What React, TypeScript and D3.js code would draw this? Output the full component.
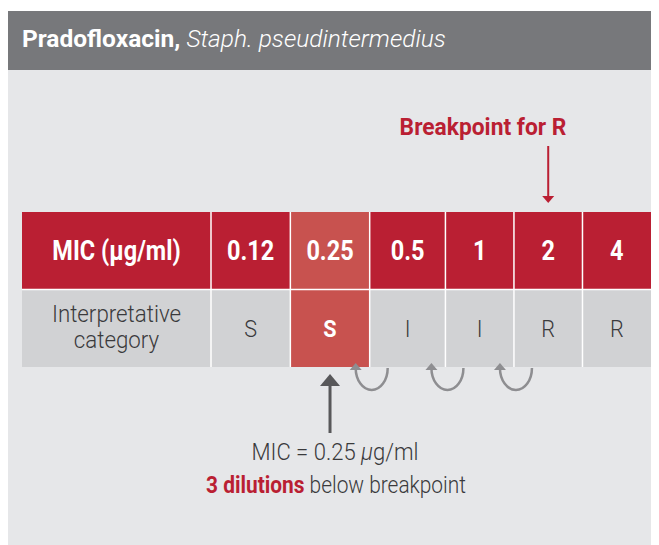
import { useEffect, useRef } from 'react';
import * as d3 from 'd3';

// MIC dilution series and interpretation
const micValues = ['0.12', '0.25', '0.5', '1', '2', '4'];
const categories = ['S', 'S', 'I', 'I', 'R', 'R'];
const measuredMic = '0.25';
const breakpointR = '2';
const dilutionSteps = ['0.5', '1', '2'];

const RED = '#ba1f33';
const HILITE = '#c8524f';
const CELL_GRAY = '#d1d2d4';
const INK = '#3a3a3c';
const FONT = "Roboto, 'Liberation Sans', sans-serif";

export default function App() {
  const svgRef = useRef<SVGSVGElement>(null);

  useEffect(() => {
    if (!svgRef.current) return;
    const svg = d3.select(svgRef.current);
    svg.selectAll('*').remove();

    // page coordinates via viewBox (body margin 8px)
    svg.attr('viewBox', '8 8 651 537');

    // text squeezed horizontally to mimic the condensed face of the original
    const label = (parent: any, x: number, y: number, size: number, sx: number) =>
      parent.append('g')
        .attr('transform', `translate(${x},${y}) scale(${sx},1)`)
        .append('text')
        .attr('text-anchor', 'middle')
        .style('font-family', FONT)
        .style('font-size', `${size}px`);

    // Panel
    svg.append('rect').attr('x', 8).attr('y', 70).attr('width', 651).attr('height', 475).attr('fill', '#e6e7e9');
    svg.append('rect').attr('x', 8).attr('y', 11).attr('width', 651).attr('height', 59).attr('fill', '#77787b');

    const title = svg.append('text')
      .attr('x', 22).attr('y', 47)
      .attr('fill', '#fff')
      .style('font-family', FONT)
      .style('font-size', '24.5px');
    title.append('tspan').attr('font-weight', 700).text('Pradofloxacin, ');
    title.append('tspan').attr('font-style', 'italic').attr('font-weight', 300).text('Staph. pseudintermedius');

    // Table columns: wider cells for longer labels
    const tableLeft = 22;
    const weights = micValues.map(v => 18 + v.length);
    const edges = [0, ...Array.from(d3.cumsum(weights))];
    const xs = d3.scaleLinear().domain([0, d3.sum(weights)]).range([211, 651]);
    const colX = (d: string) => xs(edges[micValues.indexOf(d)]);
    const colW = (d: string) => xs(edges[micValues.indexOf(d) + 1]) - colX(d);
    const colMid = (d: string) => colX(d) + colW(d) / 2;
    const y = d3.scaleBand<string>().domain(['mic', 'cat']).range([212, 367]);
    const firstRight = xs.range()[0];
    const labelX = (tableLeft + firstRight) / 2;

    const g = svg.append('g');

    // Row label cells
    g.append('rect').attr('x', tableLeft).attr('y', y('mic')!).attr('width', firstRight - tableLeft).attr('height', y.bandwidth()).attr('fill', RED);
    g.append('rect').attr('x', tableLeft).attr('y', y('cat')!).attr('width', firstRight - tableLeft).attr('height', y.bandwidth()).attr('fill', CELL_GRAY);

    g.selectAll('.micCell')
      .data(micValues)
      .enter()
      .append('rect')
      .attr('x', d => colX(d))
      .attr('y', y('mic')!)
      .attr('width', d => colW(d))
      .attr('height', y.bandwidth())
      .attr('fill', d => (d === measuredMic ? HILITE : RED));

    g.selectAll('.catCell')
      .data(micValues)
      .enter()
      .append('rect')
      .attr('x', d => colX(d))
      .attr('y', y('cat')!)
      .attr('width', d => colW(d))
      .attr('height', y.bandwidth())
      .attr('fill', d => (d === measuredMic ? HILITE : CELL_GRAY));

    // White grid lines
    const top = y('mic')!;
    const bottom = y('cat')! + y.bandwidth();
    micValues.forEach(d => {
      g.append('line').attr('x1', colX(d)).attr('x2', colX(d)).attr('y1', top).attr('y2', bottom)
        .attr('stroke', '#fff').attr('stroke-width', 1.5);
    });
    g.append('line').attr('x1', tableLeft).attr('x2', xs.range()[1]).attr('y1', y('cat')!).attr('y2', y('cat')!)
      .attr('stroke', '#fff').attr('stroke-width', 1.5);

    // Header row text
    label(g, labelX, 260, 28, 0.84)
      .attr('fill', '#fff').style('font-weight', 700)
      .text('MIC (μg/ml)');

    micValues.forEach(d => {
      label(g, colMid(d), 260, 28, 0.84)
        .attr('fill', '#fff').style('font-weight', 700)
        .text(d);
    });

    // Category row text
    const catLabel = label(g, labelX, 0, 24, 0.93).attr('fill', INK).style('font-weight', 300);
    catLabel.append('tspan').attr('x', 0).attr('y', 322).text('Interpretative');
    catLabel.append('tspan').attr('x', 0).attr('y', 348).text('category');

    micValues.forEach((d, i) => {
      label(g, colMid(d), 337, 24, 0.9)
        .attr('fill', d === measuredMic ? '#fff' : INK)
        .style('font-weight', d === measuredMic ? 700 : 300)
        .text(categories[i]);
    });

    // Breakpoint annotation
    const bpX = colMid(breakpointR);
    label(svg, 483, 135, 24, 0.95)
      .attr('fill', RED).style('font-weight', 700)
      .text('Breakpoint for R');
    svg.append('line').attr('x1', bpX).attr('x2', bpX).attr('y1', 146).attr('y2', 196)
      .attr('stroke', RED).attr('stroke-width', 2);
    svg.append('path')
      .attr('d', `M${bpX - 6},196 L${bpX + 6},196 L${bpX},203 Z`)
      .attr('fill', RED);

    // Dilution step arrows
    const rx = 16, ry = 22, armY = 368;
    dilutionSteps.forEach(d => {
      const cx = colX(d) + 2;
      svg.append('path')
        .attr('d', `M${cx + rx},${armY} A${rx},${ry} 0 0 1 ${cx - rx},${armY}`)
        .attr('fill', 'none').attr('stroke', '#8e8e91').attr('stroke-width', 2.5);
      svg.append('path')
        .attr('d', `M${cx - rx - 6},${armY + 2} L${cx - rx + 6},${armY + 2} L${cx - rx},${armY - 5} Z`)
        .attr('fill', '#8e8e91');
    });

    // MIC pointer
    const micX = colMid(measuredMic);
    svg.append('line').attr('x1', micX).attr('x2', micX).attr('y1', 433).attr('y2', 384)
      .attr('stroke', '#58585a').attr('stroke-width', 3);
    svg.append('path')
      .attr('d', `M${micX - 10},386 L${micX + 10},386 L${micX},374 Z`)
      .attr('fill', '#58585a');

    const micLine = label(svg, 335, 460, 24, 0.92).attr('fill', INK).style('font-weight', 300);
    micLine.append('tspan').text(`MIC = ${measuredMic} `);
    micLine.append('tspan').attr('font-style', 'italic').text('μ');
    micLine.append('tspan').text('g/ml');

    const dilLine = label(svg, 336, 493, 24, 0.87).attr('fill', INK).style('font-weight', 300);
    dilLine.append('tspan').attr('fill', RED).attr('font-weight', 700).text(`${dilutionSteps.length} dilutions`);
    dilLine.append('tspan').text(' below breakpoint');
  }, []);

  return <svg ref={svgRef} width={651} height={537} style={{ display: 'block' }} />;
}
